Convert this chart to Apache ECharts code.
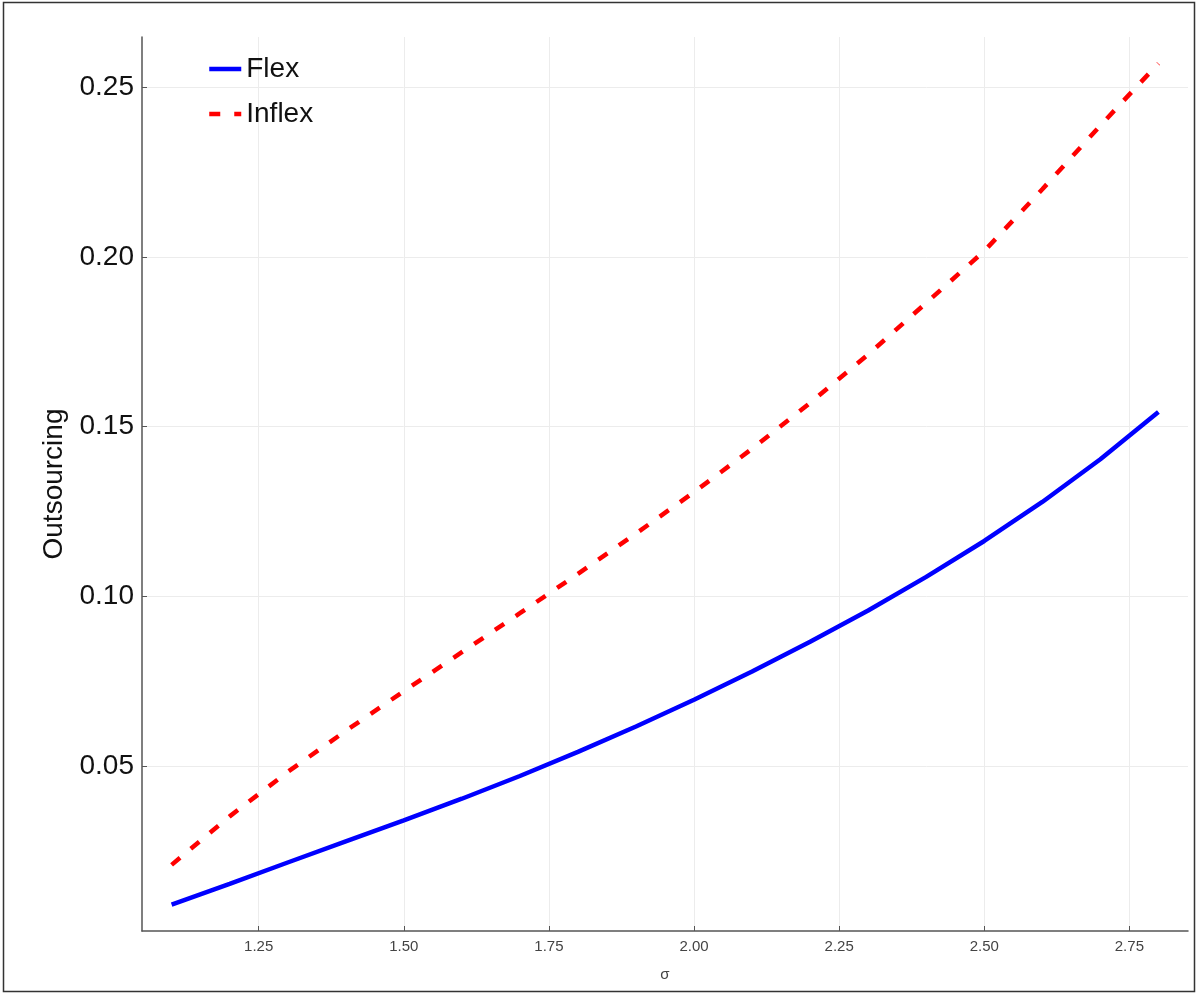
<!DOCTYPE html>
<html>
<head>
<meta charset="utf-8">
<title>Outsourcing</title>
<script src="https://cdn.jsdelivr.net/npm/echarts@6.0.0/dist/echarts.min.js"></script>
<style>
  html, body { margin: 0; padding: 0; background: #fff; }
  #chart { width: 1198px; height: 993px; }
</style>
</head>
<body>
<div id="chart"></div>
<script>
// sigma grid and the two outsourcing curves
const sigma = [1.1, 1.2, 1.3, 1.4, 1.5, 1.6, 1.7, 1.8, 1.9, 2.0, 2.1, 2.2, 2.3, 2.4, 2.5, 2.6, 2.7, 2.8];
const flex = [0.0091, 0.0152, 0.0215, 0.0277, 0.0339, 0.0403, 0.0470, 0.0541, 0.0616, 0.0695,
  0.0778, 0.0866, 0.0958, 0.1057, 0.1163, 0.1278, 0.1404, 0.1543];
const inflex = [0.0208, 0.0351, 0.0482, 0.0603, 0.0720, 0.0835, 0.0950, 0.1066, 0.1185, 0.1307,
  0.1435, 0.1570, 0.1713, 0.1865, 0.2018, 0.2200, 0.2388, 0.2571];

const xTicks = [1.25, 1.5, 1.75, 2.0, 2.25, 2.5, 2.75];
const yTicks = [0.05, 0.10, 0.15, 0.20, 0.25];

const font = '"Liberation Sans", Arial, sans-serif';
const axisColor = '#555';

const pairs = ys => sigma.map((s, i) => [s, ys[i]]);

const option = {
  animation: false,
  backgroundColor: '#fff',
  grid: { left: 142, right: 10, top: 37, bottom: 62, containLabel: false },
  graphic: [{
    type: 'rect',
    shape: { x: 3.5, y: 2.5, width: 1191, height: 989 },
    style: { fill: 'none', stroke: '#333', lineWidth: 1.5 },
    silent: true
  }],
  legend: {
    left: 202,
    top: 50,
    orient: 'vertical',
    itemWidth: 32,
    itemHeight: 14,
    itemGap: 17,
    itemStyle: { opacity: 0 },
    lineStyle: { width: 4.5 },
    textStyle: { fontFamily: font, fontSize: 28, color: '#111' },
    data: ['Flex', 'Inflex']
  },
  xAxis: {
    type: 'value',
    min: 1.049,
    max: 2.851,
    name: 'σ',
    nameLocation: 'middle',
    nameGap: 36,
    nameTextStyle: { fontFamily: font, fontSize: 15, color: '#444' },
    axisLine: { show: true, lineStyle: { color: axisColor, width: 1.5 } },
    axisTick: { show: true, inside: true, length: 5, customValues: xTicks, lineStyle: { color: axisColor } },
    axisLabel: {
      customValues: xTicks,
      margin: 8,
      fontFamily: font,
      fontSize: 15,
      color: '#444',
      formatter: v => v.toFixed(2)
    },
    splitLine: { show: true, lineStyle: { color: '#ececec', width: 1 } }
  },
  yAxis: {
    type: 'value',
    min: 0.0013,
    max: 0.2649,
    name: 'Outsourcing',
    nameLocation: 'middle',
    nameGap: 63,
    nameTextStyle: { fontFamily: font, fontSize: 28, color: '#111' },
    axisLine: { show: true, lineStyle: { color: axisColor, width: 1.5 } },
    axisTick: { show: true, inside: true, length: 5, customValues: yTicks, lineStyle: { color: axisColor } },
    axisLabel: {
      customValues: yTicks,
      margin: 8,
      fontFamily: font,
      fontSize: 28,
      color: '#111',
      formatter: v => v.toFixed(2)
    },
    splitLine: { show: true, lineStyle: { color: '#ececec', width: 1 } }
  },
  series: [
    {
      name: 'Flex',
      type: 'line',
      data: pairs(flex),
      showSymbol: false,
      symbol: 'none',
      itemStyle: { color: '#0000ff' },
      lineStyle: { color: '#0000ff', width: 4.5 }
    },
    {
      name: 'Inflex',
      type: 'line',
      data: pairs(inflex),
      showSymbol: false,
      symbol: 'none',
      itemStyle: { color: '#ff0000' },
      lineStyle: { color: '#ff0000', width: 4.5, type: [11, 14] }
    }
  ]
};

const chart = echarts.init(document.getElementById('chart'));
chart.setOption(option);
</script>
</body>
</html>
